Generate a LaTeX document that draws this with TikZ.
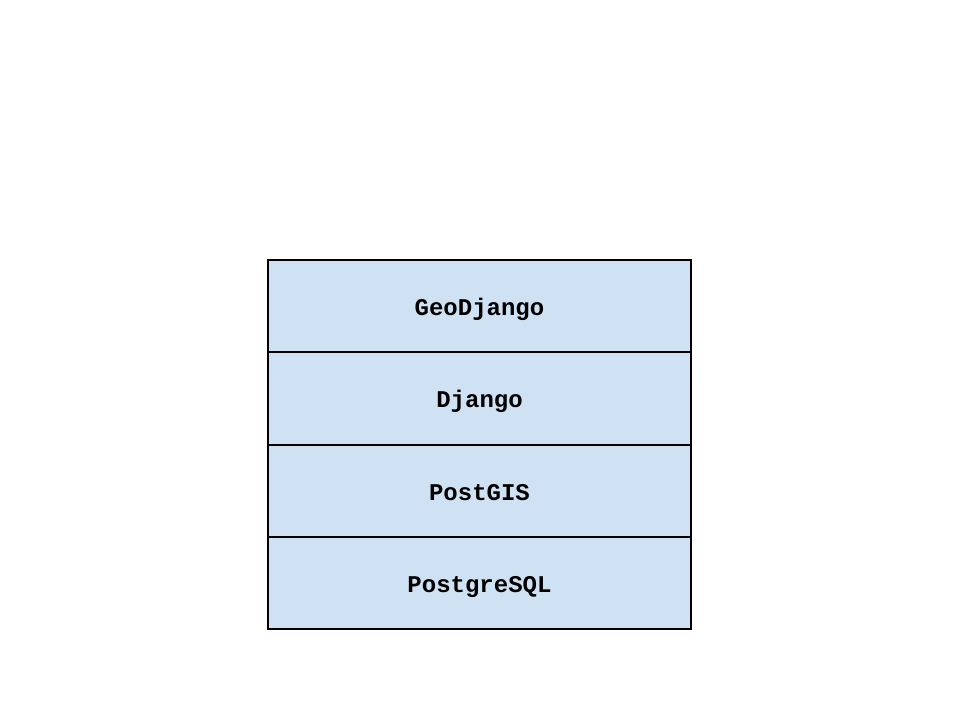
\documentclass[tikz,border=0pt]{standalone}
\usepackage{fontspec}
\setmonofont{Liberation Mono}
\usepackage{tikz}
\definecolor{layerblue}{HTML}{CFE2F3}
\tikzstyle{layer} = [rectangle, text centered, draw=black, line width=2pt, fill=layerblue, minimum width=423pt, minimum height=92.5pt, inner sep=0pt, text height=18.5pt, text depth=0pt, font=\fontsize{24}{28}\selectfont\ttfamily\bfseries]

\begin{document}
\begin{tikzpicture}[x=1pt,y=1pt]
	\useasboundingbox (0,0) rectangle (960,720);
	\node (geodjango) at (479.5, 414) [layer] {GeoDjango};
	\node (django) at (479.5, 321.5) [layer] {Django};
	\node (postgis) at (479.5, 229) [layer] {PostGIS};
	\node (postgresql) at (479.5, 137) [layer] {PostgreSQL};
\end{tikzpicture}
\end{document}
